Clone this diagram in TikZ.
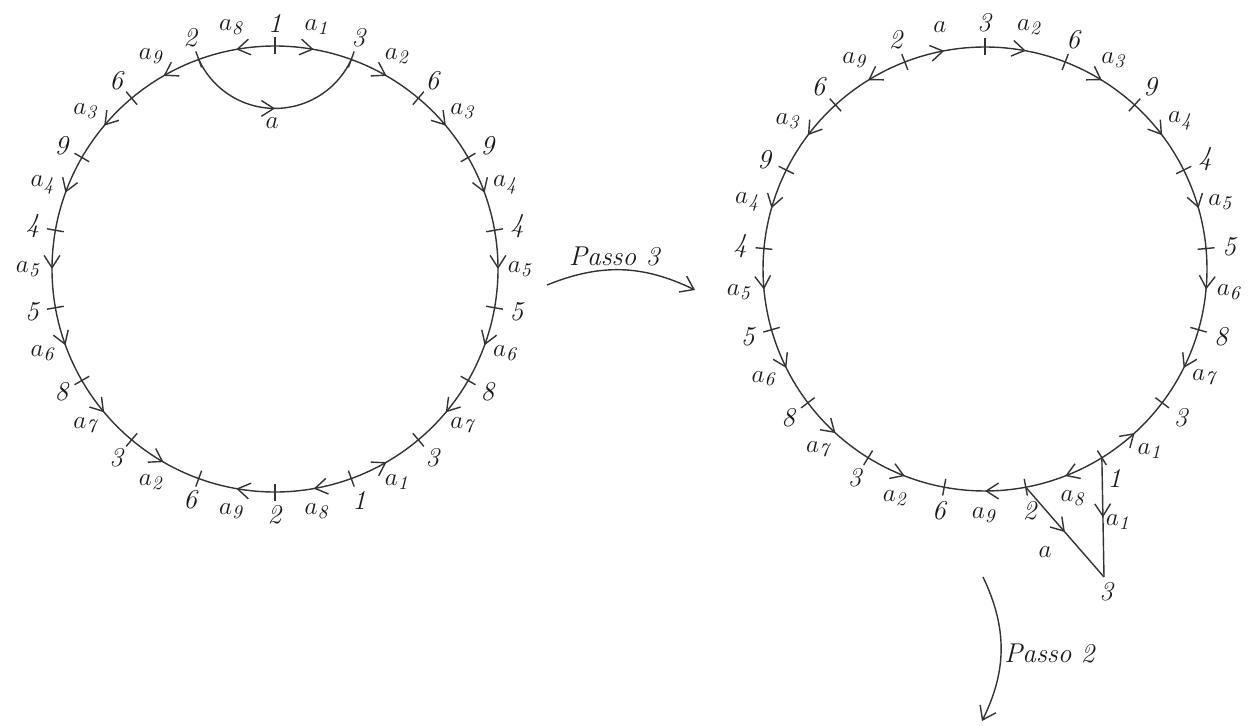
\documentclass[tikz,border=0pt]{standalone}
\usetikzlibrary{arrows.meta,decorations.markings,calc}
\begin{document}
\begin{tikzpicture}[x=0.02cm,y=0.02cm,
  line/.style={color=black!80, line width=0.8pt},
  midarrow/.style={postaction={decorate}, decoration={markings, mark=at position 0.5 with {\arrow{Straight Barb[length=7pt,width=9pt]}}}},
  lab/.style={font=\fontsize{15.5}{18}\selectfont, text=black!90, inner sep=0pt},
  passo/.style={color=black!80, line width=0.8pt, -{Straight Barb[length=7pt,width=10pt]}},
]
\useasboundingbox (0,0) rectangle (1251,725);
\coordinate (LC) at (275,456);
\coordinate (RC) at (985,456);

% ---------- left circle ----------
\foreach \j/\n in {0/1,1/3,2/6,3/9,4/4,5/5,6/8,7/3,8/1,9/2,10/6,11/3,12/8,13/5,14/4,15/9,16/6,17/2}{
  \pgfmathsetmacro\t{90-20*\j}
  \coordinate (Lv\j) at ($(LC)+(\t:223)$);
}
\foreach \j/\s/\d in {0/1/1,1/2/1,2/3/1,3/4/1,4/5/1,5/6/1,6/7/1,7/1/-1,8/8/1,9/9/1,10/2/-1,11/7/-1,12/6/-1,13/5/-1,14/4/-1,15/3/-1,16/9/-1,17/8/-1}{
  \pgfmathsetmacro\sa{90-20*(\j+(1-\d)/2)}
  \pgfmathsetmacro\ea{90-20*(\j+(1+\d)/2)}
  \pgfmathsetmacro\ma{90-20*(\j+0.5)}
  \draw[line, midarrow] ($(LC)+(\sa:223)$) arc[start angle=\sa, end angle=\ea, radius=223];
  \node[lab] (Le\j) at ($(LC)+(\ma:246)$) {$a_{\mathit{\s}}$};
}
\foreach \j/\n in {0/1,1/3,2/6,3/9,4/4,5/5,6/8,7/3,8/1,9/2,10/6,11/3,12/8,13/5,14/4,15/9,16/6,17/2}{
  \pgfmathsetmacro\t{90-20*\j}
  \draw[line] ($(LC)+(\t:214.5)$) -- ($(LC)+(\t:231.5)$);
  \node[lab] (Ln\j) at ($(LC)+(\t:246)$) {\textit{\n}};
}
% chord a
\draw[line, midarrow] (Lv17) arc[start angle=204.6, end angle=335.4, radius=83.9];
\node[lab] (La) at (272,602) {$a$};

% ---------- right circle ----------
\def\st{21.17647}
\foreach \j/\n in {0/3,1/6,2/9,3/4,4/5,5/8,6/3,7/1,8/2,9/6,10/3,11/8,12/5,13/4,14/9,15/6,16/2}{
  \pgfmathsetmacro\t{90-\st*\j}
  \coordinate (Rv\j) at ($(RC)+(\t:222)$);
}
\foreach \j/\s/\d in {0/2/1,1/3/1,2/4/1,3/5/1,4/6/1,5/7/1,6/1/-1,7/8/1,8/9/1,9/2/-1,10/7/-1,11/6/-1,12/5/-1,13/4/-1,14/3/-1,15/9/-1}{
  \pgfmathsetmacro\sa{90-\st*(\j+(1-\d)/2)}
  \pgfmathsetmacro\ea{90-\st*(\j+(1+\d)/2)}
  \pgfmathsetmacro\ma{90-\st*(\j+0.5)}
  \draw[line, midarrow] ($(RC)+(\sa:222)$) arc[start angle=\sa, end angle=\ea, radius=222];
  \node[lab] (Re\j) at ($(RC)+(\ma:246)$) {$a_{\mathit{\s}}$};
}
\pgfmathsetmacro\sa{90-\st*16}
\pgfmathsetmacro\ea{90-\st*17}
\draw[line, midarrow] (Rv16) arc[start angle=\sa, end angle=\ea, radius=222];
\node[lab] (Re16) at ($(RC)+(100.6:246)$) {$a$};
\foreach \j/\n in {0/3,1/6,2/9,3/4,4/5,5/8,6/3,7/1,8/2,9/6,10/3,11/8,12/5,13/4,14/9,15/6,16/2}{
  \pgfmathsetmacro\t{90-\st*\j}
  \draw[line] ($(RC)+(\t:213.5)$) -- ($(RC)+(\t:230.5)$);
  \node[lab] (Rn\j) at ($(RC)+(\t:246)$) {\textit{\n}};
}
% triangle
\coordinate (T3) at (1104,148);
\draw[line, midarrow] (Rv7) -- (T3);
\draw[line, midarrow] (Rv8) -- (T3);
\node[lab] (Ta1) at (1119,203) {$a_{\mathit{1}}$};
\node[lab] (Ta) at (1045,173) {$a$};
\node[lab] (T3l) at (1107,133) {\textit{3}};

% ---------- passo arrows ----------
\coordinate (P3s) at (547,440);
\coordinate (P3e) at (695,435);
\draw[passo] (P3s) to[bend left=24] (P3e);
\node[lab] (P3) at (615,469) {\textit{Passo 3}};
\coordinate (P2s) at (983,148);
\coordinate (P2e) at (982,4);
\draw[passo] (P2s) to[bend left=26] (P2e);
\node[lab] (P2) at (1050,72) {\textit{Passo 2}};
\end{tikzpicture}
\end{document}
